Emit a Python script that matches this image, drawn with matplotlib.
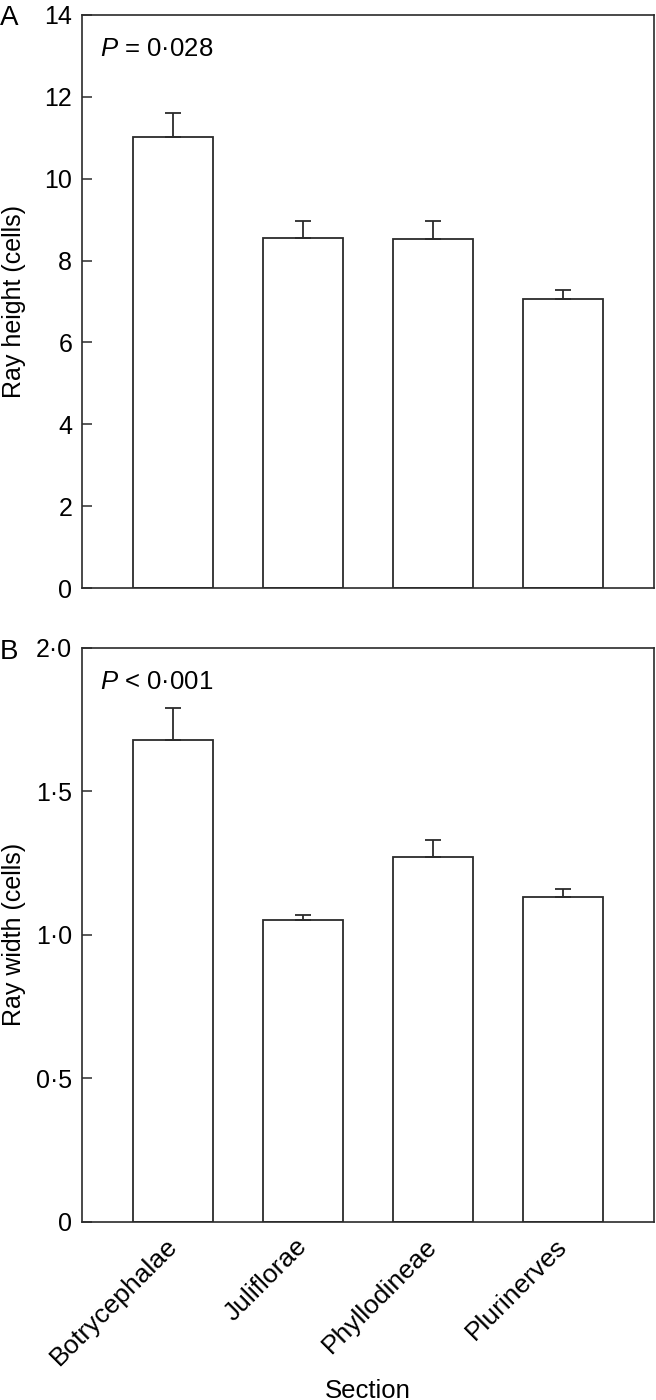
import numpy as np
import matplotlib
matplotlib.use("Agg")
import matplotlib.pyplot as plt
from matplotlib.ticker import FuncFormatter
from matplotlib.transforms import ScaledTranslation

plt.rcParams['font.family'] = ['Liberation Sans', 'DejaVu Sans']
plt.rcParams['mathtext.fontset'] = 'custom'
plt.rcParams['mathtext.it'] = 'Liberation Sans:italic'
plt.rcParams['mathtext.rm'] = 'Liberation Sans'

sections = ["Botrycephalae", "Juliflorae", "Phyllodineae", "Plurinerves"]
height_mean = [11.03, 8.55, 8.52, 7.05]
height_se = [0.57, 0.42, 0.45, 0.24]
width_mean = [1.68, 1.05, 1.27, 1.13]
width_se = [0.11, 0.02, 0.06, 0.03]

line_col = "#2b2b2b"
fs = 18

fig = plt.figure(figsize=(6.56, 14), dpi=100)
ax_a = fig.add_axes([0.125, 0.58, 0.872, 0.4093])
ax_b = fig.add_axes([0.125, 0.1274, 0.872, 0.4098])

def dot_fmt(decimals):
    return FuncFormatter(lambda v, pos: f"{v:.{decimals}f}".replace(".", "\u00b7") if v != 0 else "0")

x = np.arange(len(sections))

def draw(ax, means, se, ylim, yticks, decimals, ylabel, ptext):
    ax.bar(x, means, width=0.615, color="white", edgecolor=line_col, linewidth=1.3, zorder=2)
    ax.errorbar(x, means, yerr=[np.zeros(len(se)), se], fmt="none", ecolor=line_col,
                elinewidth=1.3, capsize=5.5, capthick=1.3, zorder=3)
    ax.set_xlim(-0.7, 3.7)
    ax.set_ylim(*ylim)
    ax.set_yticks(yticks)
    ax.yaxis.set_major_formatter(dot_fmt(decimals))
    ax.tick_params(axis='y', direction='in', length=7, width=1.1, color=line_col,
                   labelsize=fs, pad=7)
    ax.tick_params(axis='x', length=0)
    for s in ax.spines.values():
        s.set_linewidth(1.2)
        s.set_color(line_col)
    ax.set_ylabel(ylabel, fontsize=fs)
    ax.yaxis.set_label_coords(-0.098, 0.5)
    ax.text(0.031, 0.962, ptext, transform=ax.transAxes, fontsize=18.5, va='top', ha='left')

draw(ax_a, height_mean, height_se, (0, 14), np.arange(0, 15, 2), 0,
     "Ray height (cells)", "$P$ = 0\u00b7028")
ax_a.set_xticks(x)
ax_a.set_xticklabels([])

draw(ax_b, width_mean, width_se, (0, 2.0), np.arange(0, 2.01, 0.5), 1,
     "Ray width (cells)", "$P$ < 0\u00b7001")
ax_b.set_xticks(x)
ax_b.set_xticklabels(sections, rotation=45, ha='right', rotation_mode='anchor', fontsize=19)
ax_b.tick_params(axis='x', pad=9)
shift = ScaledTranslation(-8 / 100, 0, fig.dpi_scale_trans)
for lab in ax_b.get_xticklabels():
    lab.set_transform(lab.get_transform() + shift)
ax_b.set_xlabel("Section", fontsize=18.5)
ax_b.xaxis.set_label_coords(0.5, -0.274)

fig.text(0.0, 0.9965, "A", fontsize=20, va='top', ha='left')
fig.text(0.0, 0.5435, "B", fontsize=20, va='top', ha='left')

fig.savefig("out.png", dpi=100, facecolor="white")
